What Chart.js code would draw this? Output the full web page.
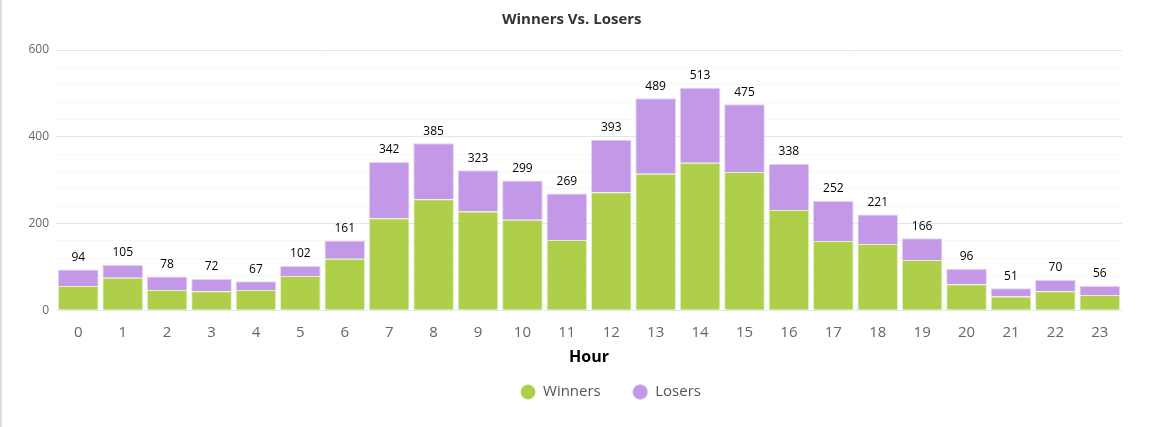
<!doctype html>
<html>

<head>
    <title>Winners Vs. Losers</title>
    <script src="https://cdn.jsdelivr.net/npm/chart.js@4"></script>
    <style>
    html, body {
        margin: 0;
        padding: 0;
        background: #fff;
    }
    #container {
        width: 1157px;
        height: 427px;
        border-left: 2px solid #ddd;
    }
    </style>
</head>

<body>
    <div id="container">
        <canvas id="canvas"></canvas>
    </div>

    <script>
        var HOURS = ["0", "1", "2", "3", "4", "5", "6", "7", "8", "9", "10", "11", "12", "13", "14", "15", "16", "17", "18", "19", "20", "21", "22", "23"];
        var WINNERS = [56, 75, 47, 44, 47, 79, 119, 212, 256, 228, 209, 162, 272, 315, 340, 319, 231, 160, 153, 116, 60, 32, 44, 35];
        var LOSERS = [38, 30, 31, 28, 20, 23, 42, 130, 129, 95, 90, 107, 121, 174, 173, 156, 107, 92, 68, 50, 36, 19, 26, 21];

        // totals drawn above each stack
        var totalsPlugin = {
            id: 'totals',
            afterDatasetsDraw: function(chart) {
                var ctx = chart.ctx;
                var meta = chart.getDatasetMeta(1);
                ctx.save();
                ctx.font = '12px "Open Sans", sans-serif';
                ctx.fillStyle = '#000';
                ctx.textAlign = 'center';
                ctx.textBaseline = 'bottom';
                meta.data.forEach(function(bar, i) {
                    ctx.fillText(WINNERS[i] + LOSERS[i], bar.x, bar.y - 6);
                });
                ctx.restore();
            }
        };

        // nudge the legend box (it sits a bit right and closer to the axis title)
        var legendShift = {
            id: 'legendShift',
            afterLayout: function(chart) {
                var l = chart.legend;
                l.left += 39;
                l.right += 39;
                l.top -= 19;
                l.bottom -= 19;
            }
        };

        window.onload = function() {
            var ctx = document.getElementById("canvas").getContext("2d");
            window.myBar = new Chart(ctx, {
                type: 'bar',
                data: {
                    labels: HOURS,
                    datasets: [{
                        label: 'Winners',
                        backgroundColor: 'rgba(166,202,55,0.9)',
                        borderColor: 'rgba(225,240,200,0.9)',
                        borderWidth: 1,
                        data: WINNERS
                    }, {
                        label: 'Losers',
                        backgroundColor: 'rgba(188,142,228,0.9)',
                        borderColor: 'rgba(225,205,245,0.9)',
                        borderWidth: 1,
                        data: LOSERS
                    }]
                },
                plugins: [totalsPlugin, legendShift],
                options: {
                    responsive: true,
                    maintainAspectRatio: false,
                    animation: false,
                    layout: {
                        padding: { left: 19.5, right: 37, top: 0, bottom: -1.5 }
                    },
                    datasets: {
                        bar: { barPercentage: 0.915, categoryPercentage: 1.0 }
                    },
                    plugins: {
                        title: {
                            display: true,
                            text: 'Winners Vs. Losers',
                            color: '#333',
                            font: { family: '"Open Sans", sans-serif', size: 15, weight: 'bold' },
                            padding: { top: 11, bottom: 21 }
                        },
                        legend: {
                            position: 'bottom',
                            labels: {
                                usePointStyle: true,
                                pointStyle: 'circle',
                                boxWidth: 15,
                                boxHeight: 10.6,
                                padding: 32,
                                color: '#555',
                                font: { family: '"Open Sans", sans-serif', size: 15 }
                            }
                        },
                        tooltip: { enabled: false }
                    },
                    scales: {
                        x: {
                            stacked: true,
                            grid: { display: false },
                            border: { display: false },
                            ticks: {
                                color: '#666',
                                padding: 5,
                                font: { family: '"Open Sans", sans-serif', size: 15 }
                            },
                            title: {
                                display: true,
                                text: 'Hour',
                                color: '#000',
                                font: { family: '"Open Sans", sans-serif', size: 16, weight: 'bold' },
                                padding: { top: 2, bottom: 4 }
                            }
                        },
                        y: {
                            stacked: true,
                            min: 0,
                            max: 600,
                            border: { display: false },
                            grid: {
                                drawTicks: false,
                                color: function(c) {
                                    return c.tick && c.tick.value % 200 === 0 ? '#e6e6e6' : '#f7f7f7';
                                },
                                lineWidth: 1
                            },
                            ticks: {
                                stepSize: 40,
                                autoSkip: false,
                                color: '#666',
                                padding: 7,
                                font: { family: '"Open Sans", sans-serif', size: 12 },
                                callback: function(v) {
                                    return v % 200 === 0 ? v : '';
                                }
                            }
                        }
                    }
                }
            });
        };
    </script>
</body>

</html>
